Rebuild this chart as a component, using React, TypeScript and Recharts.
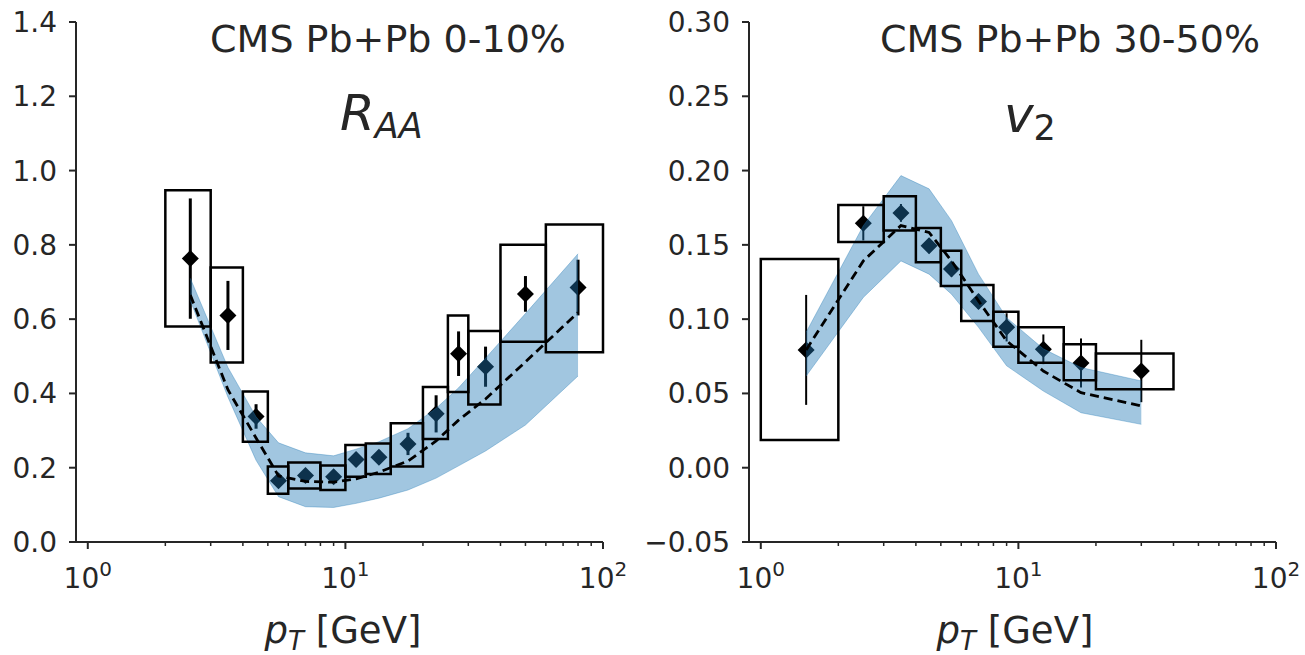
import React from "react";
import {
  ComposedChart,
  Area,
  Line,
  Scatter,
  ErrorBar,
  XAxis,
  YAxis,
  ReferenceArea,
} from "recharts";

// ---- R_AA, CMS Pb+Pb 0-10% ----
const raaPt = [2.5, 3.5, 4.5, 5.5, 7, 9, 11, 13.5, 17.5, 22.5, 27.5, 35, 50, 80];
const raaVal = [0.763, 0.61, 0.338, 0.165, 0.179, 0.176, 0.222, 0.228, 0.264, 0.345, 0.507, 0.472, 0.668, 0.685];
const raaErr = [0.162, 0.093, 0.033, 0.015, 0.015, 0.015, 0.018, 0.018, 0.03, 0.05, 0.06, 0.054, 0.048, 0.075];
const raaBinLo = [2, 3, 4, 5, 6, 8, 10, 12, 15, 20, 25, 30, 40, 60];
const raaBinHi = [3, 4, 5, 6, 8, 10, 12, 15, 20, 25, 30, 40, 60, 100];
const raaSysLo = [0.58, 0.483, 0.27, 0.13, 0.144, 0.14, 0.176, 0.183, 0.203, 0.277, 0.404, 0.37, 0.539, 0.511];
const raaSysHi = [0.947, 0.739, 0.405, 0.203, 0.214, 0.206, 0.261, 0.265, 0.32, 0.417, 0.61, 0.568, 0.8, 0.855];
const raaModel = [0.665, 0.41, 0.28, 0.178, 0.163, 0.161, 0.17, 0.188, 0.218, 0.272, 0.328, 0.385, 0.485, 0.618];
const raaBandLo = [0.65, 0.39, 0.22, 0.122, 0.095, 0.093, 0.104, 0.118, 0.14, 0.172, 0.205, 0.245, 0.315, 0.447];
const raaBandHi = [0.71, 0.47, 0.337, 0.267, 0.24, 0.232, 0.25, 0.27, 0.305, 0.36, 0.415, 0.495, 0.615, 0.776];
const raaTicks = [0, 0.2, 0.4, 0.6, 0.8, 1.0, 1.2, 1.4];

// ---- v2, CMS Pb+Pb 30-50% ----
const v2Pt = [1.5, 2.5, 3.5, 4.5, 5.5, 7, 9, 12.5, 17.5, 30];
const v2Val = [0.0793, 0.1645, 0.1715, 0.1494, 0.1337, 0.1119, 0.0945, 0.0797, 0.0705, 0.0651];
const v2Err = [0.037, 0.0115, 0.006, 0.005, 0.005, 0.005, 0.0095, 0.01, 0.0165, 0.021];
const v2BinLo = [1, 2, 3, 4, 5, 6, 8, 10, 15, 20];
const v2BinHi = [2, 3, 4, 5, 6, 8, 10, 15, 20, 40];
const v2SysLo = [0.0187, 0.152, 0.1596, 0.1383, 0.1223, 0.0988, 0.0815, 0.0706, 0.0588, 0.0528];
const v2SysHi = [0.1405, 0.1769, 0.1827, 0.1614, 0.146, 0.1229, 0.1049, 0.0946, 0.0831, 0.0768];
const v2Model = [0.0793, 0.1392, 0.163, 0.1584, 0.1392, 0.1123, 0.0854, 0.0651, 0.0505, 0.0416];
const v2BandLo = [0.0617, 0.1146, 0.1392, 0.1303, 0.1168, 0.0945, 0.0686, 0.0516, 0.037, 0.0292];
const v2BandHi = [0.0912, 0.1629, 0.1966, 0.1877, 0.1663, 0.1303, 0.101, 0.08, 0.0674, 0.0584];
const v2Ticks = [-0.05, 0, 0.05, 0.1, 0.15, 0.2, 0.25, 0.3];

const logTicks = [1, 2, 3, 4, 5, 6, 7, 8, 9, 10, 20, 30, 40, 50, 60, 70, 80, 90, 100];

const INK = "#262626";
const FONT = "DejaVu Sans";
const BLUE = "#1f77b4";

function Diamond(props: any) {
  const { cx, cy } = props;
  if (cx == null || cy == null) return null;
  const r = 8.5;
  return (
    <polygon
      points={`${cx},${cy - r} ${cx + r},${cy} ${cx},${cy + r} ${cx - r},${cy}`}
      fill="#000"
    />
  );
}

function LogTick(props: any) {
  const { x, y, payload } = props;
  const v = payload.value;
  const exp = Math.round(Math.log10(v));
  const major = Math.abs(Math.pow(10, exp) - v) < 1e-9;
  return (
    <g>
      <line x1={x} x2={x} y1={y} y2={y + (major ? 7 : 4)} stroke={INK} strokeWidth={major ? 2 : 1.5} />
      {major && (
        <text x={x} y={y + 46} textAnchor="middle" fill={INK} fontSize={28} fontFamily={FONT}>
          10
          <tspan dy={-12} fontSize={20}>
            {exp}
          </tspan>
        </text>
      )}
    </g>
  );
}

type PanelProps = {
  pt: number[];
  val: number[];
  err: number[];
  binLo: number[];
  binHi: number[];
  sysLo: number[];
  sysHi: number[];
  model: number[];
  bandLo: number[];
  bandHi: number[];
  yTicks: number[];
  yDomain: [number, number];
  fmt: (v: number) => string;
  yAxisWidth: number;
  width: number;
  marginRight: number;
  errWidth: number;
};

// two stacked charts with identical geometry: data points underneath,
// the translucent model band, boxes and dashed line on top
function Panel(props: PanelProps) {
  const data = props.pt.map((pt, i) => ({
    pt,
    val: props.val[i],
    err: props.err[i],
    band: [props.bandLo[i], props.bandHi[i]],
    model: props.model[i],
  }));
  const margin = { top: 22, right: props.marginRight, bottom: 63, left: 0 };
  const xProps = {
    dataKey: "pt",
    type: "number" as const,
    scale: "log" as const,
    domain: [0.9, 100],
    allowDataOverflow: true,
    ticks: logTicks,
    interval: 0,
    height: 50,
  };
  const yProps = {
    type: "number" as const,
    domain: props.yDomain,
    ticks: props.yTicks,
    interval: 0,
    allowDataOverflow: true,
    width: props.yAxisWidth,
  };
  return (
    <div style={{ position: "relative", width: props.width, height: 655 }}>
      <div style={{ position: "absolute", left: 0, top: 0 }}>
        <ComposedChart width={props.width} height={655} data={data} margin={margin}>
          <XAxis
            {...xProps}
            tick={<LogTick />}
            tickLine={false}
            tickSize={0}
            tickMargin={0}
            axisLine={{ stroke: INK, strokeWidth: 2 }}
          />
          <YAxis
            {...yProps}
            tickFormatter={props.fmt}
            tickSize={7}
            tickMargin={12}
            tick={{ fill: INK, fontSize: 28, fontFamily: FONT }}
            tickLine={{ stroke: INK, strokeWidth: 2 }}
            axisLine={{ stroke: INK, strokeWidth: 2 }}
          />
          <Scatter data={data} dataKey="val" shape={<Diamond />} isAnimationActive={false}>
            <ErrorBar dataKey="err" direction="y" width={0} stroke="#000" strokeWidth={props.errWidth} />
          </Scatter>
        </ComposedChart>
      </div>
      <div style={{ position: "absolute", left: 0, top: 0 }}>
        <ComposedChart width={props.width} height={655} data={data} margin={margin}>
          <XAxis {...xProps} tick={false} tickLine={false} axisLine={false} />
          <YAxis {...yProps} tick={false} tickLine={false} axisLine={false} />
          <Area
            dataKey="band"
            type="linear"
            fill={BLUE}
            fillOpacity={0.42}
            stroke={BLUE}
            strokeOpacity={0.35}
            strokeWidth={1}
            isAnimationActive={false}
          />
          {props.pt.map((_, i) => (
            <ReferenceArea
              key={i}
              x1={props.binLo[i]}
              x2={props.binHi[i]}
              y1={props.sysLo[i]}
              y2={props.sysHi[i]}
              fill="none"
              fillOpacity={0}
              stroke="#000"
              strokeWidth={2.5}
              ifOverflow="visible"
            />
          ))}
          <Line
            dataKey="model"
            type="linear"
            stroke="#000"
            strokeWidth={2.8}
            strokeDasharray="9 5"
            dot={false}
            isAnimationActive={false}
          />
        </ComposedChart>
      </div>
    </div>
  );
}

const fmt1 = (v: number) => v.toFixed(1);
const fmt2 = (v: number) => (v < 0 ? "\u2212" + Math.abs(v).toFixed(2) : v.toFixed(2));

export default function App() {
  return (
    <div style={{ position: "absolute", left: 0, top: 0, width: 1305, height: 655, background: "#fff" }}>
      <div style={{ position: "absolute", left: 0, top: 0 }}>
        <Panel
          pt={raaPt}
          val={raaVal}
          err={raaErr}
          binLo={raaBinLo}
          binHi={raaBinHi}
          sysLo={raaSysLo}
          sysHi={raaSysHi}
          model={raaModel}
          bandLo={raaBandLo}
          bandHi={raaBandHi}
          yTicks={raaTicks}
          yDomain={[0, 1.4]}
          fmt={fmt1}
          yAxisWidth={76}
          width={630}
          marginRight={27}
          errWidth={3}
        />
      </div>
      <div style={{ position: "absolute", left: 630, top: 0 }}>
        <Panel
          pt={v2Pt}
          val={v2Val}
          err={v2Err}
          binLo={v2BinLo}
          binHi={v2BinHi}
          sysLo={v2SysLo}
          sysHi={v2SysHi}
          model={v2Model}
          bandLo={v2BandLo}
          bandHi={v2BandHi}
          yTicks={v2Ticks}
          yDomain={[-0.05, 0.3]}
          fmt={fmt2}
          yAxisWidth={119}
          width={675}
          marginRight={29}
          errWidth={2}
        />
      </div>
      <svg
        width={1305}
        height={655}
        style={{ position: "absolute", left: 0, top: 0, pointerEvents: "none" }}
        fontFamily={FONT}
      >
        <text x={388} y={52} textAnchor="middle" fontSize={38} fill={INK}>
          CMS Pb+Pb 0-10%
        </text>
        <text x={1070} y={52} textAnchor="middle" fontSize={38} fill={INK}>
          CMS Pb+Pb 30-50%
        </text>
        <text x={340} y={130} fontSize={50} fontStyle="italic" fill={INK}>
          R
          <tspan dy={8} fontSize={35}>
            AA
          </tspan>
        </text>
        <text x={1004} y={132} fontSize={50} fontStyle="italic" fill={INK}>
          v
          <tspan dy={8} fontSize={35} fontStyle="normal">
            2
          </tspan>
        </text>
        <text x={343} y={643} textAnchor="middle" fontSize={37} fill={INK}>
          <tspan fontStyle="italic">p</tspan>
          <tspan dy={7} fontSize={26} fontStyle="italic">
            T
          </tspan>
          <tspan dy={-7}> [GeV]</tspan>
        </text>
        <text x={1015} y={643} textAnchor="middle" fontSize={37} fill={INK}>
          <tspan fontStyle="italic">p</tspan>
          <tspan dy={7} fontSize={26} fontStyle="italic">
            T
          </tspan>
          <tspan dy={-7}> [GeV]</tspan>
        </text>
      </svg>
    </div>
  );
}
